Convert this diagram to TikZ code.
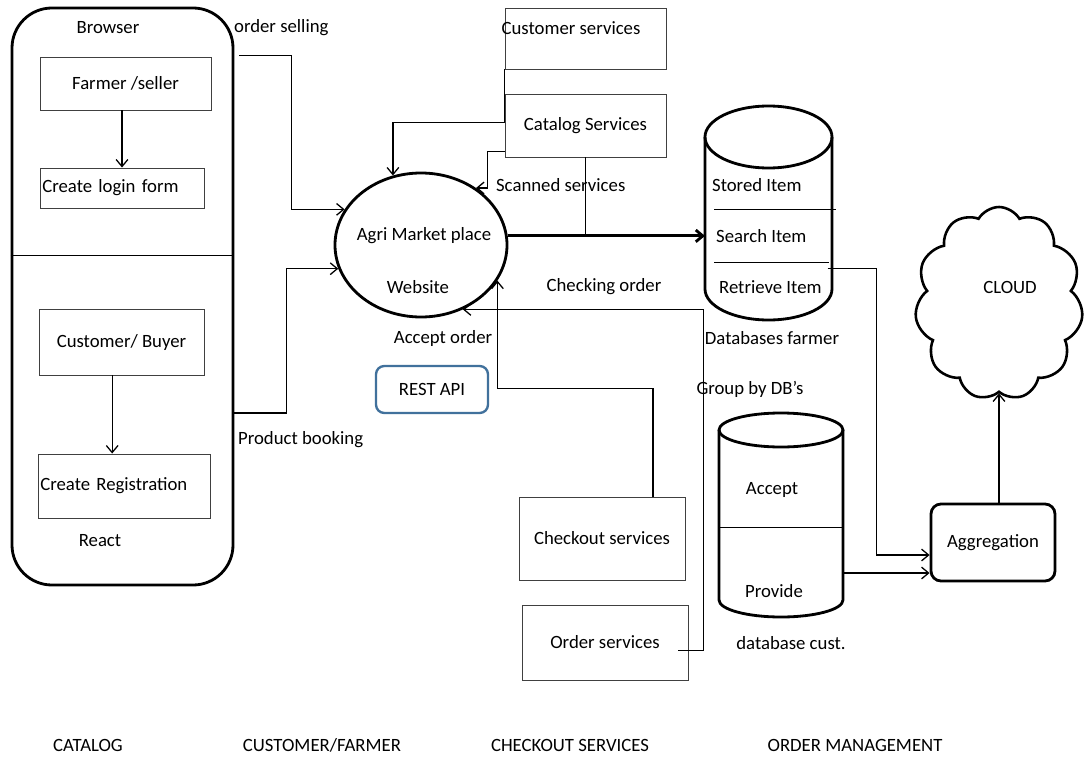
\documentclass[tikz,border=0pt]{standalone}
\usepackage{fontspec}
\setmainfont{Carlito}
\usetikzlibrary{arrows.meta, calc, shapes.geometric, shapes.symbols, shadows}
\tikzset{>={Straight Barb[length=6pt,width=10pt]}}
\definecolor{apiblue}{HTML}{41719C}
\tikzset{
    box/.style={draw=black!75, line width=0.8pt, inner sep=2pt},
    wall/.style={draw, line width=2.4pt, rounded corners=1.2cm},
    site/.style={draw, ellipse, line width=2.4pt, inner sep=0pt},
    aggbox/.style={draw, line width=2.4pt, rounded corners=0.3cm},
    apibox/.style={draw=apiblue, line width=2pt, rounded corners=0.25cm},
    cloudy/.style={draw, cloud, cloud puffs=11, cloud puff arc=120, cloud ignores aspect, line width=2.2pt, inner sep=0pt},
    drum/.style={line width=2.4pt},
    ghost/.style={inner sep=0pt, outer sep=0pt},
    thinline/.style={line width=0.8pt},
    flow/.style={->, line width=1.1pt},
}
% cylinder: name, left, right, top, bottom, cap radius (all in px)
\newcommand{\dbdrum}[6]{%
    \node[ghost, minimum width={(#3-#2)*0.03cm}, minimum height={(#5-#4)*0.03cm}] (#1) at ({(#2+#3)/2}, {(#4+#5)/2}) {};
    \draw[drum] (#2,{#4+#6}) -- (#2,{#5-#6}) arc[start angle=180, end angle=360, x radius={(#3-#2)*0.015cm}, y radius={#6*0.03cm}] -- (#3,{#4+#6});
    \draw[drum] ({(#2+#3)/2},{#4+#6}) ellipse[x radius={(#3-#2)*0.015cm}, y radius={#6*0.03cm}];
}

\begin{document}
\begin{tikzpicture}[x=0.03cm, y=-0.03cm, font=\fontsize{16}{19}\selectfont]
    \useasboundingbox[fill=white] (0,0) rectangle (1085,757);

    % browser column
    \node[wall, minimum width=6.63cm, minimum height=17.31cm] (browser) at (122.5,296.5) {};
    \node (browsertxt) at (108,28) {Browser};
    \draw[thinline] (browser.west |- 0,255) -- (browser.east |- 0,255);
    \node[box, drop shadow={opacity=0.3, shadow xshift=1.2pt, shadow yshift=-1.2pt}, fill=white, minimum width=5.13cm, minimum height=1.59cm] (farmer) at (125.5,83.5) {Farmer /seller};
    \node[box, text width=4.78cm, align=left, minimum height=1.2cm] (login) at (122,188) {Create login form};
    \node[box, minimum width=4.95cm, minimum height=1.98cm] (buyer) at (121.5,342) {Customer/ Buyer};
    \node[box, text width=5.02cm, align=left, minimum height=1.92cm] (reg) at (124,486) {Create Registration};
    \node (react) at (100,541) {React};
    \draw[flow] (farmer.south -| login.north) -- (login.north);
    \coordinate (bx) at ([xshift=-0.28cm]buyer.south);
    \draw[flow] (bx) -- (bx |- reg.north);

    % website
    \node[site, minimum width=5.16cm, minimum height=4.32cm] (site) at (421,245) {};
    \node (sitetxt1) at (424,236) {Agri Market place};
    \node (sitetxt2) at (418,287) {Website};
    \node[anchor=west] (sellinglbl) at (230,28) {order selling};
    \node[anchor=west] (bookinglbl) at (234,440) {Product booking};
    \draw[flow] ($(browser.north east)+(5,49)$) -| ($(site.155)+(-53,0)$) -- (site.155);
    \draw[flow] ($(browser.east)+(0,116.5)$) -| ($(site.196)+(-52,0)$) -- (site.196);

    % services
    \node[box, minimum width=4.83cm, minimum height=1.83cm] (cust) at (585.5,38.5) {};
    \node (custtxt) at (571,28) {Customer services};
    \node[box, minimum width=4.83cm, minimum height=1.89cm] (cat) at (585.5,125.5) {Catalog Services};
    \draw[flow] (cust.south west) |- ($(site.112)+(0,-53)$) -- (site.112);
    \draw[flow] ($(cat.south west)+(0,-6)$) -- ++(-17,0) |- (site.46);
    \node[anchor=west] (scanlbl) at (492,185) {Scanned services};
    \draw[thinline] (cat.south) -- (cat.south |- site.6);

    % farmer database
    \dbdrum{farmdb}{705}{832}{106}{320}{31}
    \node[anchor=west] (stored) at (708,185) {Stored Item};
    \draw[thinline] (714,209) -- (836,209);
    \node[anchor=west] (search) at (712,236) {Search Item};
    \draw[thinline] (714,262) -- (829,262);
    \node[anchor=west] (retr) at (715,287) {Retrieve Item};
    \node (farmdblbl) at (772,338) {Databases farmer};
    \draw[flow, line width=2.4pt] (site.6) -- (farmdb.west |- site.6);

    % customer database
    \node (grouplbl) at (750,389) {Group by DB’s};
    \dbdrum{custdb}{719}{843}{413}{617}{17}
    \draw[thinline] (719,527) -- (843,527);
    \node (acc) at (772,490) {Accept};
    \node (prov) at (774,591) {Provide};
    \node (custdblbl) at (791,643) {database cust.};

    % aggregation and cloud
    \node[aggbox, minimum width=3.72cm, minimum height=2.31cm] (agg) at (993,542.5) {Aggregation};
    \coordinate (aggin1) at ($(agg.west)+(0,12.5)$);
    \coordinate (aggin2) at ($(agg.west)+(0,30.5)$);
    \draw[flow] ($(retr.north east)+(2,-8)$) -| ($(aggin1)+(-53,0)$) -- (aggin1);
    \draw[flow] (custdb.east |- aggin2) -- (aggin2);
    \node[cloudy, minimum width=5.04cm, minimum height=5.79cm] (cloud) at (999,303.5) {};
    \node (cloudtxt) at (1010,287) {CLOUD};
    \draw[flow] (agg.north -| cloud.south) -- (cloud.south);

    % checkout side
    \node[apibox, minimum width=3.36cm, minimum height=1.41cm] (api) at (432,389.5) {REST API};
    \node (acceptlbl) at (443,338) {Accept order};
    \node (checklbl) at (604,287) {Checking order};
    \node[box, minimum width=4.98cm, minimum height=2.49cm] (checkout) at (602,538.5) {Checkout services};
    \node[box, minimum width=4.98cm, minimum height=2.25cm] (order) at (605,642.5) {Order services};
    \draw[flow] ($(checkout.north)+(51,0)$) |- ($(site.335)+(0,108)$) -- (site.335);
    \draw[flow] ($(order.east)+(-10,8)$) -- ++(25,0) |- (site.303);

    % column titles
    \node (catalogttl) at (88,745) {CATALOG};
    \node (custfarmttl) at (322,745) {CUSTOMER/FARMER};
    \node (checkoutttl) at (570,745) {CHECKOUT SERVICES};
    \node (orderttl) at (855,745) {ORDER MANAGEMENT};
\end{tikzpicture}
\end{document}
